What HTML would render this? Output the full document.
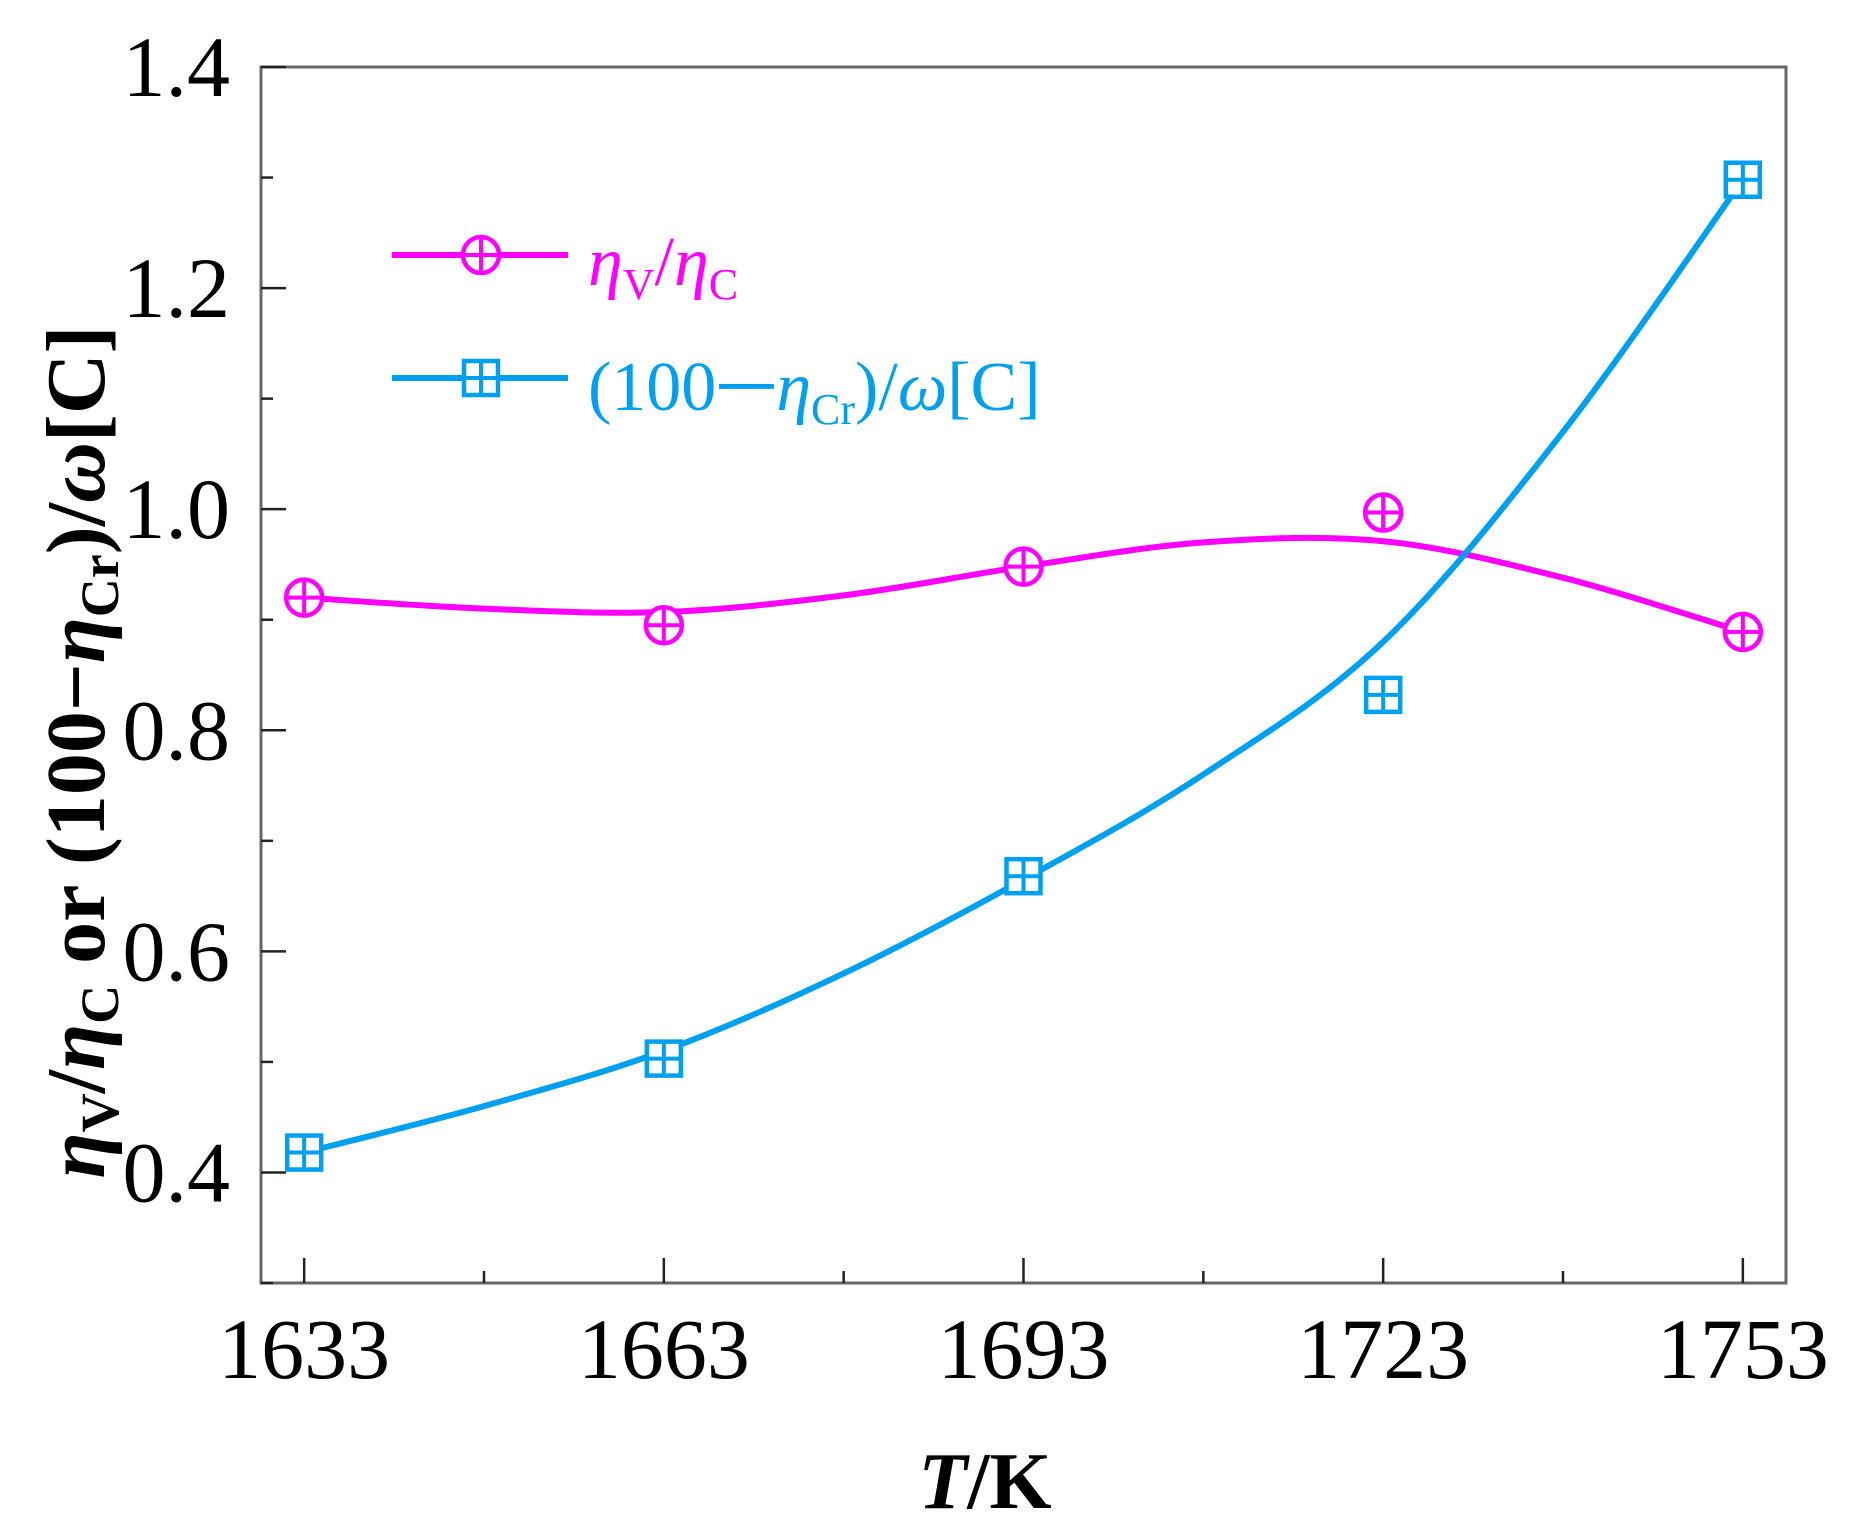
<!DOCTYPE html>
<html><head><meta charset="utf-8"><style>
html,body{margin:0;padding:0;background:#fff;}
svg{display:block;font-family:"Liberation Serif",serif;}
</style></head><body>
<svg id="chart" width="1852" height="1528" viewBox="0 0 1852 1528" xmlns="http://www.w3.org/2000/svg">
<g id="axes"></g>
<g id="series"></g>
<g id="legend">
  <line x1="392" y1="255" x2="568" y2="255" stroke="#ff00ff" stroke-width="6"/>
  <circle cx="481" cy="255" r="18" fill="#fff" stroke="#ff00ff" stroke-width="4.5"/>
  <line x1="463" y1="255" x2="499" y2="255" stroke="#ff00ff" stroke-width="4"/>
  <line x1="481" y1="237" x2="481" y2="273" stroke="#ff00ff" stroke-width="4"/>
  <text x="588" y="285" font-size="70" fill="#ff00ff"><tspan font-style="italic">η</tspan><tspan font-size="44" dy="14">V</tspan><tspan dy="-14">/</tspan><tspan font-style="italic">η</tspan><tspan font-size="44" dy="14">C</tspan></text>
  <line x1="392" y1="378" x2="568" y2="378" stroke="#00a0f0" stroke-width="6"/>
  <rect x="464" y="361" width="34" height="34" fill="#fff" stroke="#00a0f0" stroke-width="4.5"/>
  <line x1="464" y1="378" x2="498" y2="378" stroke="#00a0f0" stroke-width="4"/>
  <line x1="481" y1="361" x2="481" y2="395" stroke="#00a0f0" stroke-width="4"/>
  <text x="588" y="410" font-size="70" fill="#00a0f0">(100<tspan font-family="'Noto Sans CJK SC',sans-serif" font-size="60">一</tspan><tspan font-style="italic">η</tspan><tspan font-size="44" dy="14">Cr</tspan><tspan dy="-14">)/</tspan><tspan font-style="italic">ω</tspan>[C]</text>
</g>
<text x="985" y="1508" font-size="80" font-weight="bold" text-anchor="middle"><tspan font-style="italic">T</tspan>/K</text>
<text transform="translate(104,752) rotate(-90)" font-size="84" font-weight="bold" text-anchor="middle"><tspan font-style="italic">η</tspan><tspan font-size="54" dy="14">V</tspan><tspan dy="-14">/</tspan><tspan font-style="italic">η</tspan><tspan font-size="54" dy="14">C</tspan><tspan dy="-14"> or (100−</tspan><tspan font-style="italic">η</tspan><tspan font-size="54" dy="14">Cr</tspan><tspan dy="-14">)/</tspan><tspan font-style="italic">ω</tspan>[C]</text>
</svg>
<script>
const categories=[1633,1663,1693,1723,1753];
const ratioValues=[0.92,0.895,0.948,0.997,0.889];
const crValues=[0.418,0.503,0.668,0.832,1.298];
const fitX=[1633,1648,1663,1678,1693,1708,1723,1738,1753];
const ratioFit=[0.92,0.91,0.907,0.922,0.948,0.97,0.971,0.938,0.889];
const crFitX=[1633,1648,1663,1678,1693,1708,1723,1738,1753];
const crFit=[0.418,0.46,0.51,0.58,0.665,0.76,0.88,1.07,1.298];
const yTicks=[0.4,0.6,0.8,1.0,1.2,1.4];
const yTickLabels=["0.4","0.6","0.8","1.0","1.2","1.4"];
const yMinor=[0.3,0.5,0.7,0.9,1.1,1.3];
const xMinor=[1648,1678,1708,1738];

const NS="http://www.w3.org/2000/svg";
const L=261,R=1786,T=67,B=1283;
const xMin=1629.4,xMax=1756.6,yMin=0.3,yMax=1.4;
function xs(v){return L+(v-xMin)/(xMax-xMin)*(R-L);}
function ys(v){return B-(v-yMin)/(yMax-yMin)*(B-T);}
function mk(tag,attrs,parent){const e=document.createElementNS(NS,tag);for(const k in attrs)e.setAttribute(k,attrs[k]);parent.appendChild(e);return e;}
const axes=document.getElementById('axes');
const ser=document.getElementById('series');
const frame=mk('rect',{x:L,y:T,width:R-L,height:B-T,fill:'none',stroke:'#666',"stroke-width":3},axes);


yTicks.forEach((v,i)=>{
  const t=mk('line',{x1:L,x2:L+25,y1:ys(v),y2:ys(v),stroke:'#222',"stroke-width":2.5},axes);
  
  
  const tx=mk('text',{x:230,y:ys(v)+29,"font-size":86,"text-anchor":"end"},axes);
  tx.textContent=yTickLabels[i];
  
  
});
yMinor.forEach(v=>{
  const t=mk('line',{x1:L,x2:L+12,y1:ys(v),y2:ys(v),stroke:'#222',"stroke-width":2.5},axes);
  
  
});
categories.forEach(v=>{
  const t=mk('line',{x1:xs(v),x2:xs(v),y1:B,y2:B-25,stroke:'#222',"stroke-width":2.5},axes);
  
  
  const tx=mk('text',{x:xs(v),y:1378,"font-size":86,"text-anchor":"middle"},axes);
  tx.textContent=String(v);
  
  
});
xMinor.forEach(v=>{
  const t=mk('line',{x1:xs(v),x2:xs(v),y1:B,y2:B-12,stroke:'#222',"stroke-width":2.5},axes);
  
  
});
function smooth(xv,yv){
  const p=xv.map((x,i)=>[xs(x),ys(yv[i])]);
  let d='M'+p[0][0]+','+p[0][1];
  for(let i=0;i<p.length-1;i++){
    const p0=p[Math.max(0,i-1)],p1=p[i],p2=p[i+1],p3=p[Math.min(p.length-1,i+2)];
    const c1=[p1[0]+(p2[0]-p0[0])/6,p1[1]+(p2[1]-p0[1])/6];
    const c2=[p2[0]-(p3[0]-p1[0])/6,p2[1]-(p3[1]-p1[1])/6];
    d+=' C'+c1+' '+c2+' '+p2;
  }
  return d;
}
const l1=mk('path',{d:smooth(fitX,ratioFit),fill:'none',stroke:'#ff00ff',"stroke-width":6},ser);


const l2=mk('path',{d:smooth(crFitX,crFit),fill:'none',stroke:'#00a0f0',"stroke-width":6},ser);


categories.forEach((c,i)=>{
  const x=xs(c),y=ys(ratioValues[i]);
  const g=mk('g',{},ser);
  
  
  mk('circle',{cx:x,cy:y,r:18,fill:'#fff',stroke:'#ff00ff',"stroke-width":4.5},g);
  mk('line',{x1:x-18,x2:x+18,y1:y,y2:y,stroke:'#ff00ff',"stroke-width":4},g);
  mk('line',{x1:x,x2:x,y1:y-18,y2:y+18,stroke:'#ff00ff',"stroke-width":4},g);
});
categories.forEach((c,i)=>{
  const x=xs(c),y=ys(crValues[i]);
  const g=mk('g',{},ser);
  
  
  mk('rect',{x:x-17,y:y-17,width:34,height:34,fill:'#fff',stroke:'#00a0f0',"stroke-width":4.5},g);
  mk('line',{x1:x-17,x2:x+17,y1:y,y2:y,stroke:'#00a0f0',"stroke-width":4},g);
  mk('line',{x1:x,x2:x,y1:y-17,y2:y+17,stroke:'#00a0f0',"stroke-width":4},g);
});
</script>
</body></html>
